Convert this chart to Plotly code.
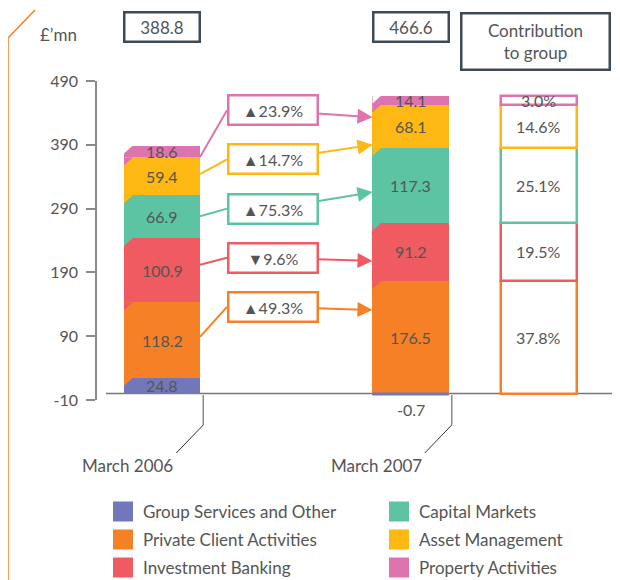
import plotly.graph_objects as go

# ---------------- data ----------------
categories = ["March 2006", "March 2007"]
series = ["Group Services and Other", "Private Client Activities", "Investment Banking",
          "Capital Markets", "Asset Management", "Property Activities"]
values_2006 = [24.8, 118.2, 100.9, 66.9, 59.4, 18.6]
values_2007 = [-0.7, 176.5, 91.2, 117.3, 68.1, 14.1]
totals = [388.8, 466.6]
# year-on-year change labels (series 1..5), as printed
change_pct = [None, 49.3, -9.6, 75.3, 14.7, 23.9]
y_ticks = [-10, 90, 190, 290, 390, 490]
y_tick_text = ["-10", "90", "190", "290", "390", "490"]

colors = ["#7177b9", "#f58026", "#ef5b60", "#5cc3a3", "#fdb813", "#de74ad"]
TXT = "#555555"
DARK = "#3e4b54"
FONT = "Lato"

# ---------------- layout constants ----------------
cat_x = [0, 1]
contrib_x = 1.517
bar_w = 0.306
box_cx = 0.4447
box_left = 0.2616
box_y = [None, 136, 213, 290, 367, 444]
arrow_tip_y = [None, 131, 208, 316, 390, 433]
conn_start_y = [None, 89, 202, 278, 344, 371]
bevel_dx, bevel_dy = 0.036, 12.5

# page offset (browser body margin) and plot-area geometry in screen pixels
OFF = 8
PL, PW, PT, PH = 97, 523, 81, 319
FIG_W, FIG_H = 620 - OFF, 580 - OFF
def px(xp):
    return (xp - PL) / PW
def py(yp):
    return (PT + PH - yp) / PH

fig = go.Figure()

# stacked bars
for i, name in enumerate(series):
    fig.add_trace(go.Bar(
        x=cat_x, y=[values_2006[i], values_2007[i]], width=bar_w, name=name,
        marker=dict(color=colors[i], line=dict(width=0)),
        showlegend=False, hoverinfo="skip"))

# very small negative segment: draw its edge so it stays visible
for j, vals in enumerate([values_2006, values_2007]):
    for i, v in enumerate(vals):
        if v < 0:
            fig.add_trace(go.Scatter(
                x=[cat_x[j] - bar_w / 2, cat_x[j] + bar_w / 2], y=[v, v], mode="lines",
                line=dict(color=colors[i], width=3), showlegend=False, hoverinfo="skip"))

# contribution-to-group outlined column
total_2007 = totals[1]
for i in range(1, len(series)):
    fig.add_trace(go.Bar(
        x=[contrib_x], y=[values_2007[i]], width=bar_w,
        marker=dict(color="white", line=dict(color=colors[i], width=2.5)),
        showlegend=False, hoverinfo="skip"))

# legend entries (six single-item legends laid out in two columns)
legend_slots = {}
leg_names = ["legend", "legend2", "legend3", "legend4", "legend5", "legend6"]
col_x = [103, 379]
row_y = [512, 540, 568]
for i, name in enumerate(series):
    col, row = (0, i) if i < 3 else (1, i - 3)
    ln = leg_names[i]
    fig.add_trace(go.Scatter(
        x=[None], y=[None], mode="markers", name=name, legend=ln,
        marker=dict(symbol="square", size=16, color=colors[i],
                    line=dict(color=colors[i], width=4))))
    legend_slots[ln] = dict(x=px(col_x[col]), y=py(row_y[row]), xanchor="left",
                            yanchor="middle", bgcolor="rgba(0,0,0,0)",
                            font=dict(family=FONT, size=17, color=TXT))

annotations = []
shapes = []

def label(**kw):
    d = dict(showarrow=False, xanchor="center", yanchor="middle",
             font=dict(family=FONT, size=16, color=TXT))
    d.update(kw)
    annotations.append(d)

# segment labels and bevels
for j, vals in enumerate([values_2006, values_2007]):
    cum = 0
    pos_idx = [i for i, v in enumerate(vals) if v > 0]
    for k, i in enumerate(pos_idx):
        v = vals[i]
        label(x=cat_x[j], y=cum + v / 2, xref="x", yref="y", text=f"{v:.1f}")
        top = cum + v
        above = colors[pos_idx[k + 1]] if k + 1 < len(pos_idx) else "white"
        left = cat_x[j] - bar_w / 2
        shapes.append(dict(type="path", xref="x", yref="y",
                           path=f"M{left},{top} L{left + bevel_dx},{top} L{left},{top - bevel_dy} Z",
                           fillcolor=above, line=dict(width=0), layer="above"))
        cum = top
    for i, v in enumerate(vals):
        if v < 0:
            label(x=cat_x[j], y=v, xref="x", yref="y", yanchor="top", yshift=-4,
                  text=f"{v:.1f}")

# contribution labels
cum = 0
for i in range(1, len(series)):
    v = values_2007[i]
    label(x=contrib_x, y=cum + v / 2, xref="x", yref="y",
          text=f"{v / total_2007 * 100:.1f}%")
    cum += v

# change boxes with arrows to the 2007 bar, and connectors from the 2006 bar
for i in range(1, len(series)):
    c = change_pct[i]
    sym = "▲" if c >= 0 else "▼"
    annotations.append(dict(
        x=cat_x[1] - bar_w / 2, y=arrow_tip_y[i], xref="x", yref="y",
        ax=box_cx, ay=box_y[i], axref="x", ayref="y",
        text=f"{sym}{abs(c):.1f}%", showarrow=True, arrowhead=2, arrowsize=1.5,
        arrowwidth=2, arrowcolor=colors[i], standoff=0,
        bordercolor=colors[i], borderwidth=2.5, borderpad=0, bgcolor="white",
        width=87, height=27, font=dict(family=FONT, size=16, color=TXT)))
    shapes.append(dict(type="line", xref="x", yref="y",
                       x0=cat_x[0] + bar_w / 2, y0=conn_start_y[i],
                       x1=box_left, y1=box_y[i],
                       line=dict(color=colors[i], width=2), layer="below"))

# totals boxes
for j, t in enumerate(totals):
    label(x=cat_x[j], y=py(27.5), xref="x", yref="paper", text=f"{t:.1f}",
          bordercolor=DARK, borderwidth=2.5, borderpad=0, width=73, height=27,
          font=dict(family=FONT, size=17, color=TXT))
label(x=px(535.5), y=py(41), xref="paper", yref="paper", text="Contribution<br>to group",
      bordercolor=DARK, borderwidth=2.5, borderpad=0, width=146, height=54,
      font=dict(family=FONT, size=17, color=TXT))

# unit label
label(x=px(59), y=py(35), xref="paper", yref="paper", text="£’mn",
      font=dict(family=FONT, size=17, color=TXT))

# category labels with leader lines
for j, cat in enumerate(categories):
    tx = cat_x[j] + 0.166
    label(x=cat_x[j] - 0.138, y=py(465), xref="x", yref="paper", text=cat,
          font=dict(family=FONT, size=17, color=TXT))
    shapes.append(dict(type="line", xref="x", yref="paper", x0=tx, x1=tx,
                       y0=py(395), y1=py(425), line=dict(color="#8a8a8a", width=1.5)))
    shapes.append(dict(type="line", xref="x", yref="paper", x0=tx, x1=tx - 0.1087,
                       y0=py(425), y1=py(453), line=dict(color="#333333", width=1)))

# baseline at zero
shapes.append(dict(type="line", xref="paper", yref="y", x0=px(106), x1=1, y0=0, y1=0,
                   line=dict(color="#777777", width=1.5), layer="below"))

# decorative orange bracket on the left
shapes.append(dict(type="path", xref="paper", yref="paper",
                   path=f"M{px(35)},{py(10)} L{px(8)},{py(38)} L{px(8)},{py(600)}",
                   line=dict(color="#f58026", width=1.5)))

fig.update_layout(
    width=FIG_W, height=FIG_H,
    margin=dict(l=PL - OFF, r=FIG_W - (PL - OFF) - PW, t=PT - OFF,
                b=FIG_H - (PT - OFF) - PH, autoexpand=False),
    paper_bgcolor="white", plot_bgcolor="white",
    barmode="relative", bargap=0,
    font=dict(family=FONT, size=16, color=TXT),
    xaxis=dict(visible=False, range=[-0.2616, -0.2616 + PW / 248.5], fixedrange=True),
    yaxis=dict(range=[-10, 490], tickvals=y_ticks, ticktext=y_tick_text,
               showgrid=False, zeroline=False,
               showline=True, linecolor="#8a8a8a", linewidth=1.5,
               ticks="outside", ticklen=9, tickcolor="#8a8a8a", tickwidth=1.5,
               ticklabelstandoff=5, automargin=False,
               tickfont=dict(family=FONT, size=16, color=TXT)),
    annotations=annotations, shapes=shapes,
    **legend_slots,
)

fig.write_html("out.html")
